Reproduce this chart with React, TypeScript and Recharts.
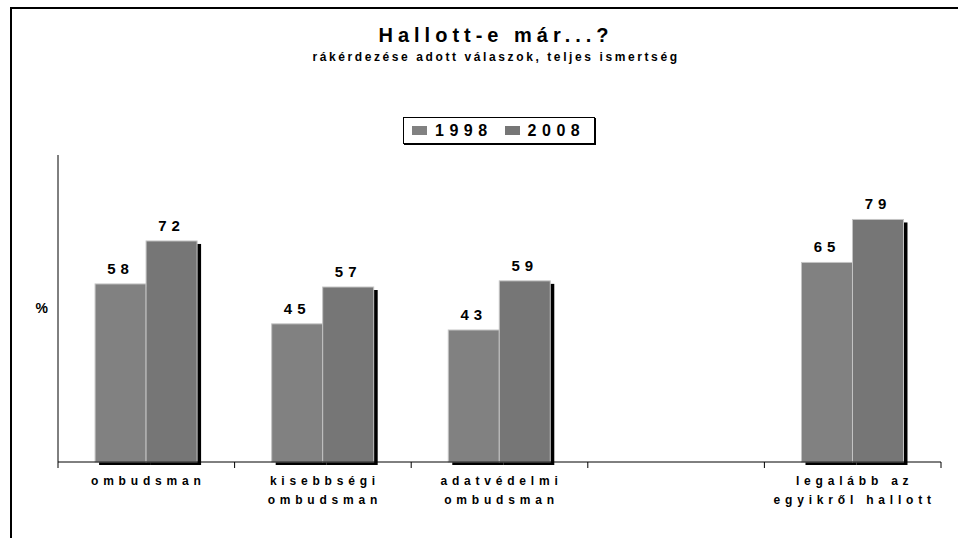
import React from 'react';
import { BarChart, Bar, XAxis, YAxis, LabelList } from 'recharts';

// ─── Data ─────────────────────────────────────────────────────────────────────

const categories = [
  'ombudsman',
  'kisebbségi\nombudsman',
  'adatvédelmi\nombudsman',
  '',
  'legalább az\negyikről hallott',
];
const values1998 = [58, 45, 43, null, 65];
const values2008 = [72, 57, 59, null, 79];

const seriesNames = ['1998', '2008'];
const seriesColors = ['#818181', '#767676'];

const title = 'Hallott-e már...?';
const subtitle = 'rákérdezése adott válaszok, teljes ismertség';

// ─── Layout ───────────────────────────────────────────────────────────────────

const W = 958;
const H = 538;
const MARGIN = { top: 155, right: 17, left: 0, bottom: 36 };
const Y_AXIS_W = 58;
const BAND = (W - MARGIN.left - MARGIN.right - Y_AXIS_W) / categories.length;
const FONT = '"Liberation Sans", Arial, sans-serif';

const data = categories.map((c, i) => ({
  name: c,
  v1998: values1998[i],
  v2008: values2008[i],
}));

// bar with Excel-like drop shadow
function ShadowBar(props: any) {
  const { x, y, width, height, fill } = props;
  if (!width || !height || height <= 0) return null;
  return (
    <g>
      <rect x={x + 4} y={y + 3} width={width} height={height} fill="#000" />
      <rect x={x} y={y} width={width} height={height} fill={fill} stroke="#c4c4c4" strokeWidth={1} />
    </g>
  );
}

// category label + boundary tick marks
function CategoryTick(props: any) {
  const { x, y, payload, index, visibleTicksCount } = props;
  const lines = String(payload.value).split('\n').filter(Boolean);
  const left = x - BAND / 2;
  const right = x + BAND / 2;
  return (
    <g>
      <line x1={left} y1={y} x2={left} y2={y + 6} stroke="#000" />
      {index === visibleTicksCount - 1 && (
        <line x1={right} y1={y} x2={right} y2={y + 6} stroke="#000" />
      )}
      {lines.map((l, i) => (
        <text
          key={i}
          x={x + 2}
          y={y + 23 + i * 19}
          textAnchor="middle"
          fontFamily={FONT}
          fontSize={12}
          fontWeight={700}
          letterSpacing={4.8}
          fill="#000"
        >
          {l}
        </text>
      ))}
    </g>
  );
}

const valueLabel = (v: any) => (v == null ? '' : String(v));
const valueStyle = { fontFamily: FONT, fontSize: 15, fontWeight: 700, letterSpacing: 5, fill: '#000' };

export default function App() {
  return (
    <div style={{ position: 'absolute', left: 0, top: 0, width: W, height: H, background: '#fff', fontFamily: FONT }}>
      {/* outer frame (cut off at right and bottom) */}
      <div
        style={{
          position: 'absolute', left: 10, top: 7, width: W, height: H,
          borderTop: '2px solid #000', borderLeft: '2px solid #000',
        }}
      />
      <svg width={W} height={90} style={{ position: 'absolute', left: 0, top: 0 }}>
        <text x={496} y={42} textAnchor="middle" fontFamily={FONT} fontSize={20} fontWeight={700} letterSpacing={5} fill="#000">
          {title}
        </text>
        <text x={496} y={61} textAnchor="middle" fontFamily={FONT} fontSize={12} fontWeight={700} letterSpacing={2.6} fill="#000">
          {subtitle}
        </text>
      </svg>

      {/* legend */}
      <div
        style={{
          position: 'absolute', left: 403, top: 117, width: 192, height: 27,
          border: '1px solid #000', boxShadow: '1px 1px 0 #000',
          display: 'flex', alignItems: 'center', paddingLeft: 8, boxSizing: 'border-box',
        }}
      >
        {seriesNames.map((n, i) => (
          <div key={n} style={{ display: 'flex', alignItems: 'center', marginRight: 12 }}>
            <div style={{ width: 15, height: 9, background: seriesColors[i], marginRight: 8 }} />
            <span style={{ fontSize: 16, fontWeight: 700, letterSpacing: 5.5, lineHeight: '16px' }}>{n}</span>
          </div>
        ))}
      </div>

      <div style={{ position: 'absolute', left: 0, top: 0 }}>
        <BarChart width={W} height={H} data={data} margin={MARGIN} barCategoryGap="21%" barGap={0}>
          <XAxis
            dataKey="name"
            height={40}
            axisLine={{ stroke: '#000' }}
            tickLine={false}
            tickSize={0}
            tickMargin={0}
            interval={0}
            tick={<CategoryTick />}
          />
          <YAxis
            width={Y_AXIS_W}
            domain={[0, 100]}
            tick={false}
            tickLine={false}
            axisLine={{ stroke: '#000' }}
            label={{
              value: '%',
              position: 'insideRight',
              offset: 10,
              style: { fontFamily: FONT, fontSize: 14, fontWeight: 700, fill: '#000' },
            }}
          />
          <Bar dataKey="v1998" name={seriesNames[0]} fill={seriesColors[0]} shape={<ShadowBar />} isAnimationActive={false}>
            <LabelList dataKey="v1998" position="top" offset={10} formatter={valueLabel} style={valueStyle} />
          </Bar>
          <Bar dataKey="v2008" name={seriesNames[1]} fill={seriesColors[1]} shape={<ShadowBar />} isAnimationActive={false}>
            <LabelList dataKey="v2008" position="top" offset={10} formatter={valueLabel} style={valueStyle} />
          </Bar>
        </BarChart>
      </div>
    </div>
  );
}
